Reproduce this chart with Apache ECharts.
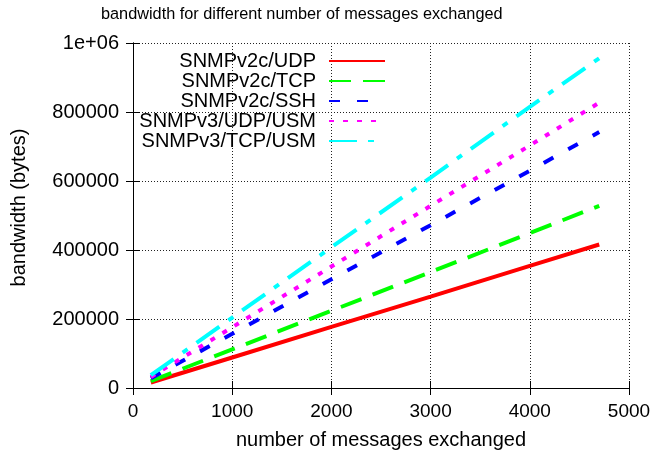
<!DOCTYPE html>
<html>
<head>
<meta charset="utf-8">
<script src="https://cdn.jsdelivr.net/npm/echarts@6/dist/echarts.min.js"></script>
<style>
  html, body { margin: 0; padding: 0; background: #fff; }
  #chart { width: 655px; height: 455px; }
</style>
</head>
<body>
<div id="chart"></div>
<script>
// number of messages exchanged (x)
const msgCounts = [180, 1000, 2000, 3000, 4000, 4700];

// bandwidth in bytes
const v2cUdp = [16000, 88500, 177000, 265000, 354000, 416000];
const v2cTcp = [20000, 112000, 224000, 336000, 449000, 528000];
const v2cSsh = [28500, 157000, 315000, 472000, 630000, 742000];
const v3UdpUsm = [32000, 176000, 352000, 528000, 703000, 827000];
const v3TcpUsm = [37000, 204000, 408000, 610000, 815000, 956000];

const seriesNames = ["SNMPv2c/UDP", "SNMPv2c/TCP", "SNMPv2c/SSH", "SNMPv3/UDP/USM", "SNMPv3/TCP/USM"];
const seriesValues = [v2cUdp, v2cTcp, v2cSsh, v3UdpUsm, v3TcpUsm];
const seriesColors = ["#ff0000", "#00ff00", "#0000ff", "#ff00ff", "#00ffff"];
const seriesDashes = ["solid", [22, 12], [11, 17], [5, 9], [28, 11, 6, 11]];

const FONT = "Liberation Sans, Arial, sans-serif";

const chart = echarts.init(document.getElementById("chart"));

// helper: pair x with y values
const toPoints = (vals) => vals.map((v, i) => [msgCounts[i], v]);

// mirror axes (top / right) only carry the frame and inward ticks
const frameAxis = {
    type: "value",
    min: 0,
    axisLine: { show: true, lineStyle: { color: "#000", width: 1 } },
    axisTick: { show: true, inside: true, length: 7, lineStyle: { color: "#000" } },
    splitLine: { show: false },
    axisLabel: { show: false }
};

const options = {
    animation: false,
    backgroundColor: "#fff",
    title: {
        text: "bandwidth for different number of messages exchanged",
        left: 101,
        top: 7,
        padding: 0,
        textStyle: { fontFamily: FONT, fontSize: 16.3, fontWeight: "normal", color: "#000" }
    },
    legend: {
        orient: "vertical",
        align: "right",
        right: 269,
        top: 51,
        padding: 0,
        itemWidth: 56,
        itemHeight: 14,
        itemGap: 0,
        data: seriesNames,
        itemStyle: { opacity: 0 },
        textStyle: {
            fontFamily: FONT,
            fontSize: 20,
            color: "#000",
            lineHeight: 20,
            padding: [0, 8, 0, 0]
        }
    },
    grid: { left: 133, right: 26, top: 43, bottom: 65 },
    xAxis: [
        {
            type: "value",
            min: 0,
            max: 5000,
            interval: 1000,
            name: "number of messages exchanged",
            nameLocation: "middle",
            nameGap: 42,
            nameTextStyle: { fontFamily: FONT, fontSize: 20, color: "#000" },
            axisLine: { show: true, lineStyle: { color: "#000", width: 1 } },
            axisTick: { show: true, inside: true, length: 7, lineStyle: { color: "#000" } },
            axisLabel: {
                fontFamily: FONT,
                fontSize: 19,
                color: "#000",
                margin: 14,
                formatter: (v) => String(v)
            },
            splitLine: { show: true, lineStyle: { color: "#222", width: 1, type: [1, 2] } }
        },
        Object.assign({}, frameAxis, { position: "top", max: 5000, interval: 1000 })
    ],
    yAxis: [
        {
            type: "value",
            min: 0,
            max: 1000000,
            interval: 200000,
            name: "bandwidth (bytes)",
            nameLocation: "middle",
            nameGap: 104,
            nameTextStyle: { fontFamily: FONT, fontSize: 20, color: "#000", padding: [0, 0, 0, 16] },
            axisLine: { show: true, lineStyle: { color: "#000", width: 1 } },
            axisTick: { show: true, inside: true, length: 7, lineStyle: { color: "#000" } },
            axisLabel: {
                fontFamily: FONT,
                fontSize: 20,
                color: "#000",
                margin: 14,
                formatter: (v) => (v === 1000000 ? "1e+06" : String(v))
            },
            splitLine: { show: true, lineStyle: { color: "#222", width: 1, type: [1, 2] } }
        },
        Object.assign({}, frameAxis, { position: "right", max: 1000000, interval: 200000 })
    ],
    series: seriesNames.map((name, i) => ({
        name: name,
        type: "line",
        xAxisIndex: 0,
        yAxisIndex: 0,
        symbol: "none",
        data: toPoints(seriesValues[i]),
        color: seriesColors[i],
        lineStyle: { color: seriesColors[i], width: 4, type: seriesDashes[i], cap: "butt" },
        itemStyle: { color: seriesColors[i] }
    }))
};

chart.setOption(options);
</script>
</body>
</html>
